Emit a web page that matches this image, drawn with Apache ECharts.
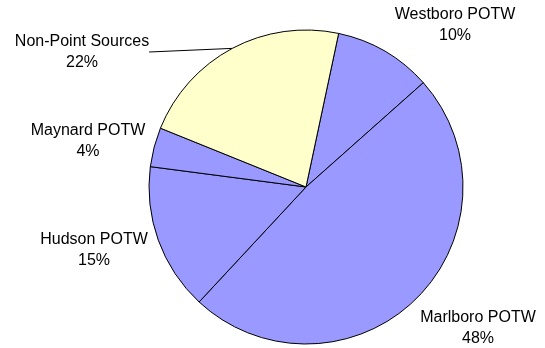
<!DOCTYPE html>
<html>
<head>
<meta charset="utf-8">
<script src="https://cdn.jsdelivr.net/npm/echarts@6/dist/echarts.min.js"></script>
<style>
  html, body { margin: 0; padding: 0; background: #fff; }
  #chart { width: 545px; height: 348px; }
</style>
</head>
<body>
<div id="chart"></div>
<script>
// Sources of load, listed clockwise from the top of the pie
const sources = ['Westboro POTW', 'Marlboro POTW', 'Hudson POTW', 'Maynard POTW', 'Non-Point Sources'];
const shares = [10, 48, 15, 4, 22]; // percent
const sliceColors = ['#9999FF', '#9999FF', '#9999FF', '#9999FF', '#FFFFCC'];

// Where each two-line label sits (centre of the text block)
const labelSpots = [
  [455, 25],
  [478, 328],
  [94, 250],
  [88, 141],
  [82, 52]
];

const chart = echarts.init(document.getElementById('chart'), null, { renderer: 'canvas' });

chart.setOption({
  animation: false,
  backgroundColor: '#ffffff',
  series: [{
    type: 'pie',
    center: [306, 187],
    radius: 157,
    startAngle: 78,
    clockwise: true,
    avoidLabelOverlap: false,
    minShowLabelAngle: 0,
    silent: true,
    itemStyle: { borderColor: '#000', borderWidth: 1 },
    label: {
      show: true,
      position: 'outside',
      formatter: p => p.name + '\n' + p.value + '%',
      fontFamily: 'Liberation Sans, Arial, sans-serif',
      fontSize: 16,
      lineHeight: 20.5,
      color: '#000',
      align: 'center',
      verticalAlign: 'middle'
    },
    labelLine: { show: false, length: 0, length2: 0, lineStyle: { color: '#000', width: 1 } },
    labelLayout: p => ({
      x: labelSpots[p.dataIndex][0],
      y: labelSpots[p.dataIndex][1],
      align: 'center',
      verticalAlign: 'middle'
    }),
    data: sources.map((name, i) => ({
      name,
      value: shares[i],
      itemStyle: { color: sliceColors[i] },
      labelLine: { show: name === 'Non-Point Sources' }
    }))
  }]
});
</script>
</body>
</html>
